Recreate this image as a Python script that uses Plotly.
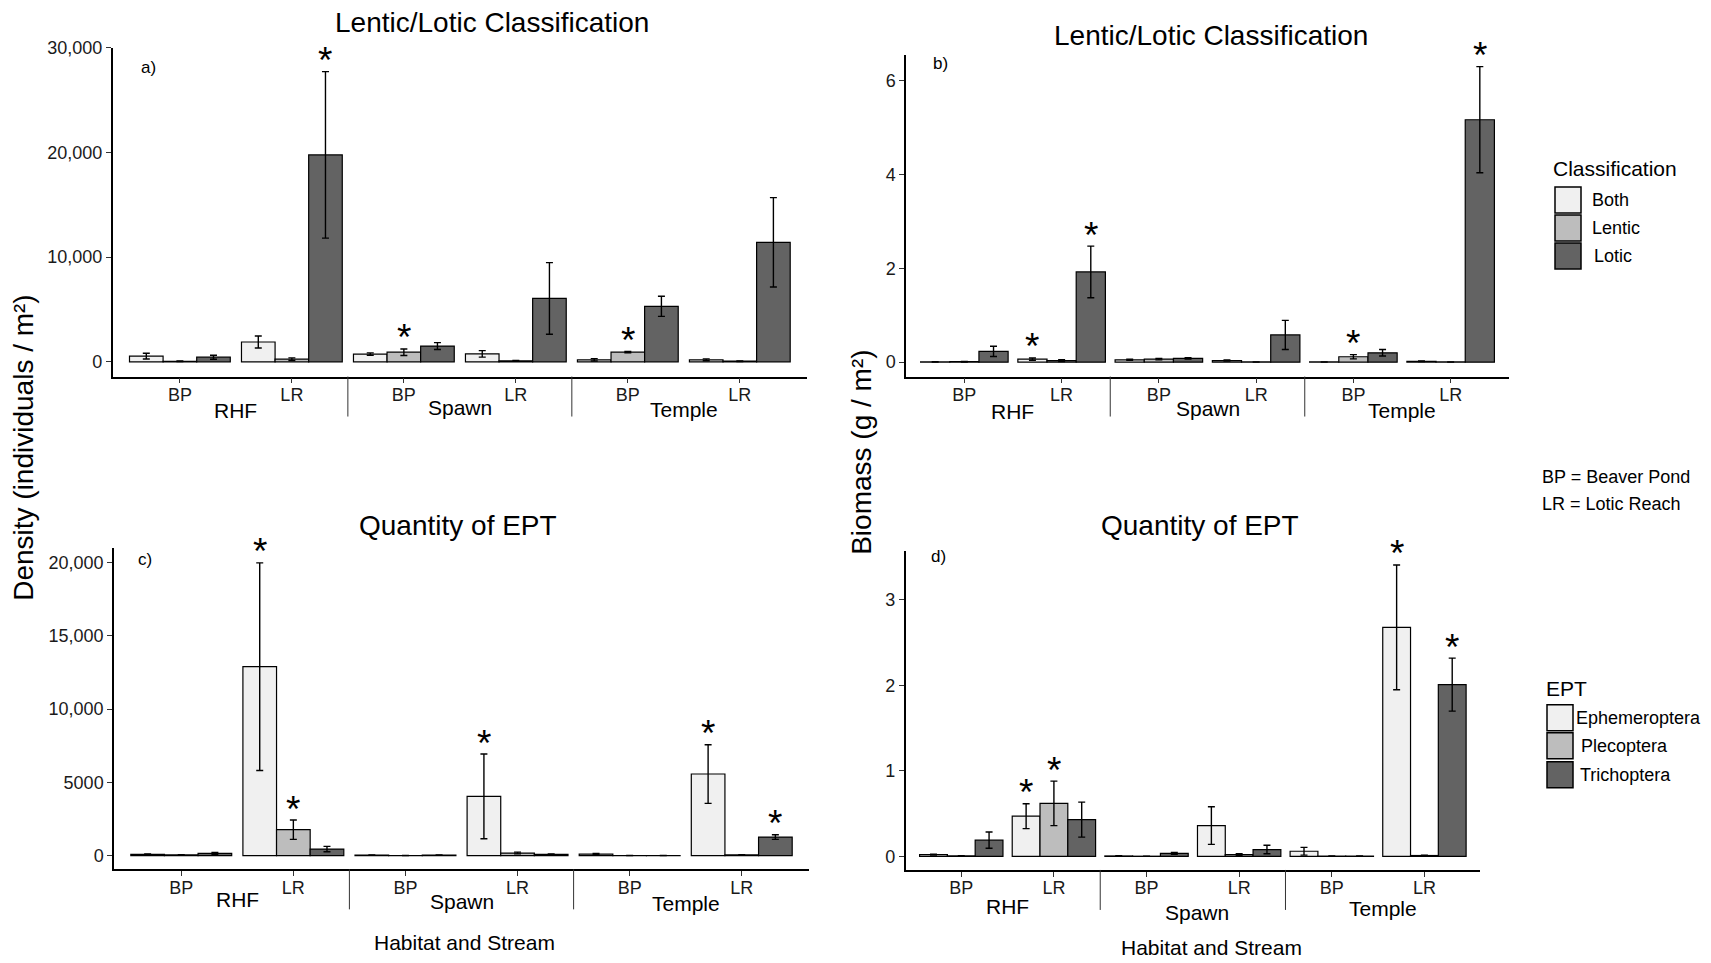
import plotly.graph_objects as go

W, H = 1711, 963
FONT = "Liberation Sans, Arial, Helvetica, sans-serif"

# ---------------- data ----------------
streams = ["RHF", "Spawn", "Temple"]
habitat_ticks = ["BP", "LR", "BP", "LR", "BP", "LR"]   # RHF-BP, RHF-LR, Spawn-BP, Spawn-LR, Temple-BP, Temple-LR
class_names = ["Both", "Lentic", "Lotic"]
ept_names = ["Ephemeroptera", "Plecoptera", "Trichoptera"]
fills = ["#F0F0F0", "#BDBDBD", "#636363"]

# a) density by lentic/lotic classification (individuals / m2)
dens_both = [540, 1890, 740, 760, 190, 190]
dens_both_se = [270, 570, 110, 310, 110, 90]
dens_lentic = [50, 250, 915, 90, 915, 60]
dens_lentic_se = [30, 120, 315, 40, 65, 30]
dens_lotic = [440, 19780, 1500, 6060, 5300, 11420]
dens_lotic_se = [190, 7960, 330, 3420, 960, 4270]
dens_class_stars = [(1, 2), (2, 1), (4, 1)]

# b) biomass by lentic/lotic classification (g / m2)
bio_both = [0.005, 0.065, 0.05, 0.035, 0.005, 0.02]
bio_both_se = [0.003, 0.025, 0.012, 0.01, 0.002, 0.006]
bio_lentic = [0.01, 0.035, 0.065, 0.005, 0.115, 0.005]
bio_lentic_se = [0.005, 0.02, 0.015, 0.002, 0.045, 0.002]
bio_lotic = [0.23, 1.92, 0.08, 0.58, 0.2, 5.16]
bio_lotic_se = [0.11, 0.55, 0.015, 0.31, 0.07, 1.13]
bio_class_stars = [(1, 0), (1, 2), (4, 1), (5, 2)]

# c) density of EPT (individuals / m2)
dens_ephem = [90, 12890, 40, 4045, 110, 5570]
dens_ephem_se = [30, 7080, 15, 2890, 40, 2000]
dens_pleco = [50, 1770, 10, 180, 10, 50]
dens_pleco_se = [20, 660, 5, 60, 5, 20]
dens_trich = [160, 450, 40, 90, 10, 1270]
dens_trich_se = [60, 185, 15, 30, 5, 160]
dens_ept_stars = [(1, 0), (1, 1), (3, 0), (5, 0), (5, 2)]

# d) biomass of EPT (g / m2)
bio_ephem = [0.02, 0.47, 0.005, 0.36, 0.06, 2.68]
bio_ephem_se = [0.005, 0.145, 0.002, 0.22, 0.045, 0.73]
bio_pleco = [0.005, 0.62, 0.002, 0.02, 0.003, 0.01]
bio_pleco_se = [0.002, 0.26, 0.001, 0.01, 0.001, 0.005]
bio_trich = [0.19, 0.43, 0.035, 0.08, 0.003, 2.01]
bio_trich_se = [0.095, 0.205, 0.01, 0.05, 0.001, 0.31]
bio_ept_stars = [(1, 0), (1, 1), (5, 0), (5, 2)]

# y tick labels
a_tickvals = [0, 10000, 20000, 30000]
a_ticktext = ["0", "10,000", "20,000", "30,000"]
b_tickvals = [0, 2, 4, 6]
b_ticktext = ["0", "2", "4", "6"]
c_tickvals = [0, 5000, 10000, 15000, 20000]
c_ticktext = ["0", "5000", "10,000", "15,000", "20,000"]
d_tickvals = [0, 1, 2, 3]
d_ticktext = ["0", "1", "2", "3"]

# ---------------- helpers ----------------
def fx(px):
    return px / W

def fy(py):
    py = (py - 9) / 0.99
    return 1 - py / H

xpos = list(range(len(habitat_ticks)))

panels = [
    dict(s="", names=class_names,
         means=[dens_both, dens_lentic, dens_lotic],
         ses=[dens_both_se, dens_lentic_se, dens_lotic_se],
         stars=dens_class_stars, xd=(112.7, 807), yd=(47, 375.7),
         yr=[-1412, 30000], tv=a_tickvals, tt=a_ticktext,
         title="Lentic/Lotic Classification", tpos=(492, 22),
         letter="a)", lpos=(148, 67), strip_y=[410, 407, 409],
         strip_x=[0.5, 2.5, 4.5]),
    dict(s="2", names=class_names,
         means=[bio_both, bio_lentic, bio_lotic],
         ses=[bio_both_se, bio_lentic_se, bio_lotic_se],
         stars=bio_class_stars, xd=(906, 1509), yd=(54, 375.7),
         yr=[-0.306, 6.538], tv=b_tickvals, tt=b_ticktext,
         title="Lentic/Lotic Classification", tpos=(1211, 35),
         letter="b)", lpos=(940, 63), strip_y=[411, 408, 410],
         strip_x=[0.5, 2.5, 4.5]),
    dict(s="3", names=ept_names,
         means=[dens_ephem, dens_pleco, dens_trich],
         ses=[dens_ephem_se, dens_pleco_se, dens_trich_se],
         stars=dens_ept_stars, xd=(114, 809), yd=(547.3, 868.7),
         yr=[-934, 20980], tv=c_tickvals, tt=c_ticktext,
         title="Quantity of EPT", tpos=(458, 525),
         letter="c)", lpos=(145, 559), strip_y=[899, 901, 903],
         strip_x=[0.5, 2.5, 4.5]),
    dict(s="4", names=ept_names,
         means=[bio_ephem, bio_pleco, bio_trich],
         ses=[bio_ephem_se, bio_pleco_se, bio_trich_se],
         stars=bio_ept_stars, xd=(905.7, 1480), yd=(549.8, 869.3),
         yr=[-0.159, 3.578], tv=d_tickvals, tt=d_ticktext,
         title="Quantity of EPT", tpos=(1200, 525),
         letter="d)", lpos=(938, 556), strip_y=[906, 912, 908],
         strip_x=[0.5, 2.55, 4.55]),
]

fig = go.Figure()
annotations = []
shapes = []

for p in panels:
    xa = "x" + p["s"]
    ya = "y" + p["s"]
    for i, (name, m, se) in enumerate(zip(p["names"], p["means"], p["ses"])):
        fig.add_trace(go.Bar(
            x=xpos, y=m, name=name, xaxis=xa, yaxis=ya,
            offsetgroup=str(i),
            marker=dict(color=fills[i], line=dict(color="black", width=1.2)),
            error_y=dict(type="data", array=se, visible=True,
                         color="black", thickness=1.4, width=3.5),
            showlegend=False, hoverinfo="skip",
        ))
    for g, s in p["stars"]:
        annotations.append(dict(
            x=g + (s - 1) * 0.3, y=p["means"][s][g] + p["ses"][s][g],
            xref=xa, yref=ya, text="*", showarrow=False, xanchor="center",
            font=dict(size=37, color="black", family=FONT),
            yanchor="middle", yshift=11))
    xkey = "xaxis" + p["s"]
    ykey = "yaxis" + p["s"]
    fig.update_layout(**{
        xkey: dict(domain=[fx(p["xd"][0]), fx(p["xd"][1])], anchor=ya,
                   range=[-0.6, 5.6], tickvals=xpos, ticktext=habitat_ticks,
                   showline=True, linecolor="black", linewidth=1.5,
                   ticks="outside", ticklen=5, tickcolor="#333333", tickwidth=1,
                   ticklabelstandoff=-4,
                   showgrid=False, zeroline=False,
                   tickfont=dict(size=18, color="#1a1a1a", family=FONT)),
        ykey: dict(domain=[fy(p["yd"][1]), fy(p["yd"][0])], anchor=xa,
                   range=p["yr"], tickvals=p["tv"], ticktext=p["tt"],
                   showline=True, linecolor="black", linewidth=1.5,
                   ticks="outside", ticklen=5, tickcolor="#333333", tickwidth=1,
                   showgrid=False, zeroline=False,
                   tickfont=dict(size=18, color="#1a1a1a", family=FONT)),
    })
    for k, st in enumerate(streams):
        annotations.append(dict(
            x=p["strip_x"][k], y=fy(p["strip_y"][k]), xref=xa, yref="paper",
            text=st, showarrow=False, xanchor="center", yanchor="middle",
            font=dict(size=21, color="black", family=FONT)))
    for sx in [1.5, 3.5]:
        shapes.append(dict(type="line", xref=xa, yref="paper",
                           x0=sx, x1=sx, y0=fy(p["yd"][1]), y1=fy(p["yd"][1] + 40),
                           line=dict(color="#333333", width=1)))
    annotations.append(dict(x=fx(p["tpos"][0]), y=fy(p["tpos"][1]), xref="paper", yref="paper",
                            text=p["title"], showarrow=False, xanchor="center", yanchor="middle",
                            font=dict(size=28, color="black", family=FONT)))
    annotations.append(dict(x=fx(p["lpos"][0]), y=fy(p["lpos"][1]), xref="paper", yref="paper",
                            text=p["letter"], showarrow=False, xanchor="center", yanchor="middle",
                            font=dict(size=17, color="black", family=FONT)))

annotations += [
    dict(x=fx(24), y=fy(447), xref="paper", yref="paper", text="Density (individuals / m²)",
         textangle=-90, showarrow=False, xanchor="center", yanchor="middle",
         font=dict(size=28, color="black", family=FONT)),
    dict(x=fx(862), y=fy(452), xref="paper", yref="paper", text="Biomass (g / m²)",
         textangle=-90, showarrow=False, xanchor="center", yanchor="middle",
         font=dict(size=28, color="black", family=FONT)),
    dict(x=fx(464), y=fy(942), xref="paper", yref="paper", text="Habitat and Stream",
         showarrow=False, xanchor="center", yanchor="middle",
         font=dict(size=21, color="black", family=FONT)),
    dict(x=fx(1211), y=fy(947), xref="paper", yref="paper", text="Habitat and Stream",
         showarrow=False, xanchor="center", yanchor="middle",
         font=dict(size=21, color="black", family=FONT)),
]

def add_legend(title, title_xy, names, key_x, ys, text_xs):
    annotations.append(dict(x=fx(title_xy[0]), y=fy(title_xy[1]), xref="paper", yref="paper",
                            text=title, showarrow=False, xanchor="left", yanchor="middle",
                            font=dict(size=21, color="black", family=FONT)))
    for i, (nm, yc, tx) in enumerate(zip(names, ys, text_xs)):
        shapes.append(dict(type="rect", xref="paper", yref="paper",
                           x0=fx(key_x), x1=fx(key_x + 26), y0=fy(yc + 13), y1=fy(yc - 13),
                           fillcolor=fills[i], line=dict(color="black", width=1.5)))
        annotations.append(dict(x=fx(tx), y=fy(yc), xref="paper", yref="paper",
                                text=nm, showarrow=False, xanchor="left", yanchor="middle",
                                font=dict(size=18, color="black", family=FONT)))

add_legend("Classification", (1551, 168), class_names, 1555, [199, 227, 255], [1590, 1590, 1592])
add_legend("EPT", (1544, 688), ept_names, 1547, [717, 745, 774], [1574, 1579, 1578])

annotations += [
    dict(x=fx(1540), y=fy(476), xref="paper", yref="paper", text="BP = Beaver Pond",
         showarrow=False, xanchor="left", yanchor="middle", font=dict(size=18, color="black", family=FONT)),
    dict(x=fx(1540), y=fy(503), xref="paper", yref="paper", text="LR = Lotic Reach",
         showarrow=False, xanchor="left", yanchor="middle", font=dict(size=18, color="black", family=FONT)),
]

fig.update_layout(
    width=W, height=H, margin=dict(l=0, r=0, t=0, b=0),
    paper_bgcolor="white", plot_bgcolor="white",
    barmode="group", bargap=0.1, bargroupgap=0,
    showlegend=False, annotations=annotations, shapes=shapes,
    font=dict(family=FONT, color="black"),
)

fig.write_html("out.html", config={"displayModeBar": False},
               post_script="document.body.style.margin='0';document.body.style.padding='0';document.body.style.overflow='hidden';")
